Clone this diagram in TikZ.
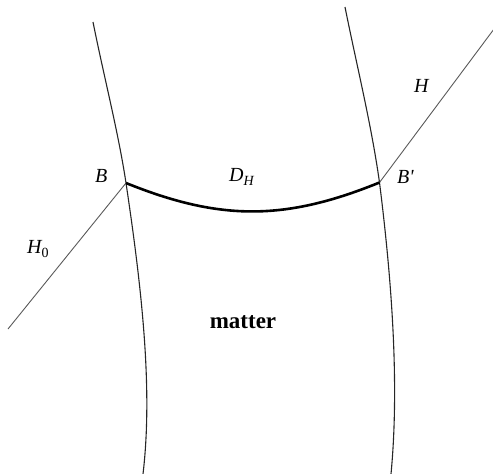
\documentclass[tikz,border=0pt]{standalone}
\usepackage{fontspec}
\setmainfont{Liberation Serif}[BoldFont={Liberation Serif Bold},ItalicFont={Liberation Serif Italic}]
\tikzset{
  wall/.style={line width=1.1pt, black!85},
  ray/.style={line width=0.9pt, black!65},
  front/.style={line width=2.6pt, black},
  lab/.style={inner sep=0pt, font=\fontsize{20}{20}\selectfont\itshape, anchor=base west},
}
\newcommand{\subs}[1]{\raisebox{-0.45ex}{\fontsize{14}{14}\selectfont #1}}
\begin{document}
\begin{tikzpicture}[x=1pt,y=-1pt]
\useasboundingbox (0,0) rectangle (493,474);
\coordinate (B) at (126,183);
\coordinate (Bp) at (379.5,182.5);
\coordinate (ltop) at (93,22);
\coordinate (lbot) at (143,474);
\coordinate (rtop) at (345,7);
\coordinate (rbot) at (391,474);
\coordinate (h0end) at (8,329);
\coordinate (hend) at (494,29);
% matter boundaries
\draw[wall] (ltop) .. controls (104,77) and (118.5,133) .. (B)
  .. controls (142,290) and (153,390) .. (lbot);
\draw[wall] (rtop) .. controls (356.6,65) and (371.4,124.5) .. (Bp)
  .. controls (393,290) and (399,390) .. (rbot);
% rays
\draw[ray] (h0end) -- (B);
\draw[ray] (Bp) -- (hend);
% front
\draw[front] (B) .. controls (220,221) and (285,221) .. (Bp);
% labels
\node[lab] (lB) at (95,182) {B};
\node[lab] (lBp) at (397,183) {B\textquotesingle};
\node[lab] (lH) at (414,92) {H};
\node[lab] (lH0) at (27,253) {H\subs{\upshape 0}};
\node[lab] (lD) at (229,181) {D\subs{H}};
\node[inner sep=0pt, anchor=base, font=\fontsize{23}{23}\selectfont\bfseries] (lm) at (243,328) {matter};
\end{tikzpicture}
\end{document}
